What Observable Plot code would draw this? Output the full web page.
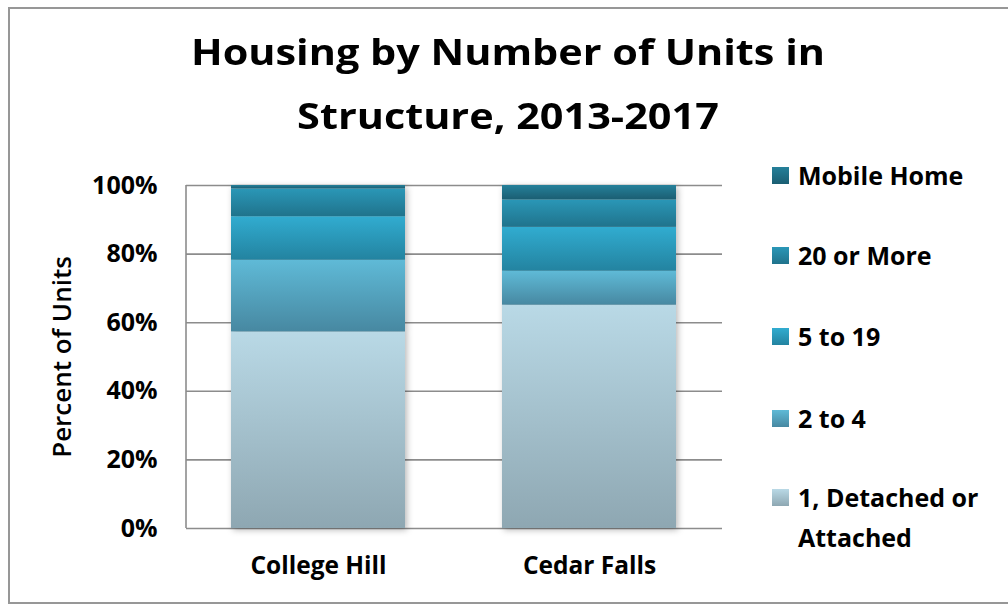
<!DOCTYPE html>
<html>
<head>
<meta charset="utf-8">
<script src="https://cdn.jsdelivr.net/npm/d3@7"></script>
<script src="https://cdn.jsdelivr.net/npm/@observablehq/plot@0.6"></script>
<style>
  html, body { margin: 0; padding: 0; background: #fff; }
  #wrap { position: relative; width: 1008px; height: 604px; overflow: hidden; font-family: "Open Sans", sans-serif; color: #000; }
  #border { position: absolute; left: 8px; top: 7px; width: 1010px; height: 597px; border: 2px solid #979797; box-sizing: border-box; }
  #title { position: absolute; left: 0; top: 20px; width: 1016px; text-align: center; font-size: 36px; font-weight: 700; line-height: 64px; transform: scaleX(1.15); transform-origin: 508px 0; }
  #chart { position: absolute; left: 0; top: 0; }
  .leg { position: absolute; left: 772px; width: 225px; font-size: 25px; font-weight: 700; line-height: 40px; }
  .leg .sw { position: absolute; left: 0; top: 12px; width: 17px; height: 17px; }
  .leg .tx { display: block; margin-left: 26px; }
</style>
</head>
<body>
<div id="wrap">
  <div id="border"></div>
  <div id="chart"></div>
  <div id="title">Housing by Number of Units in<br>Structure, 2013-2017</div>
  <div id="legend"></div>
</div>
<script>
// ---- data ----
const categories = ["College Hill", "Cedar Falls"];
const series = ["1, Detached or Attached", "2 to 4", "5 to 19", "20 or More", "Mobile Home"];
const collegeHill = [57.3, 20.9, 12.7, 8.1, 1.0];
const cedarFalls = [65.1, 9.9, 12.8, 8.0, 4.2];
const yTicks = [0, 20, 40, 60, 80, 100];

// gradient colours per series (top -> bottom)
const gradTop = ["#b9d9e6", "#5fbad7", "#31acd0", "#2a97b7", "#25809a"];
const gradBottom = ["#8ea7b2", "#4788a1", "#2383a0", "#20738c", "#1b5e72"];

const values = [collegeHill, cedarFalls];
const data = [];
series.forEach((s, i) => {
  categories.forEach((c, j) => data.push({place: c, series: s, value: values[j][i]}));
});

const chart = Plot.plot({
  width: 760,
  height: 604,
  marginTop: 185,
  marginBottom: 76,
  marginLeft: 186,
  marginRight: 38,
  style: {background: "transparent", overflow: "visible", fontFamily: "'Open Sans', sans-serif"},
  x: {domain: categories, paddingInner: 0.357, paddingOuter: 0.164},
  y: {domain: [0, 100]},
  color: {domain: series, range: series.map((s, i) => `url(#grad${i})`)},
  marks: [
    Plot.ruleY(yTicks, {stroke: "#8c8c8c", strokeWidth: 1.6}),
    Plot.barY(data, {x: "place", y: "value", fill: "series"}),
    Plot.axisY({ticks: yTicks, tickFormat: d => d + "%", tickSize: 0, tickPadding: 29, fontSize: 25, fontWeight: "bold", label: null}),
    Plot.axisX({tickSize: 0, tickPadding: 28, fontSize: 24.5, fontWeight: "bold", label: null}),
    Plot.text(["Percent of Units"], {frameAnchor: "left", textAnchor: "middle", dx: -124, rotate: -90, fontSize: 26, fontWeight: 600})
  ]
});

// gradients
const svg = d3.select(chart);
const defs = svg.insert("defs", ":first-child");
series.forEach((s, i) => {
  const g = defs.append("linearGradient").attr("id", `grad${i}`).attr("x1", 0).attr("y1", 0).attr("x2", 0).attr("y2", 1);
  g.append("stop").attr("offset", "0%").attr("stop-color", gradTop[i]);
  g.append("stop").attr("offset", "100%").attr("stop-color", gradBottom[i]);
});
svg.selectAll('g[aria-label="bar"]').style("filter", "drop-shadow(2px 2px 3px rgba(0,0,0,0.28))");
// left axis line
svg.append("line").attr("x1", 186).attr("x2", 186).attr("y1", 185).attr("y2", 528)
  .attr("stroke", "#8c8c8c").attr("stroke-width", 1.6);

document.getElementById("chart").appendChild(chart);

// legend (top entry first)
const legendTops = [155, 235, 316, 398, 477];
const legend = document.getElementById("legend");
series.slice().reverse().forEach((s, k) => {
  const i = series.length - 1 - k;
  const item = document.createElement("div");
  item.className = "leg";
  item.style.top = legendTops[k] + "px";
  item.innerHTML = `<span class="sw" style="background:linear-gradient(${gradTop[i]}, ${gradBottom[i]})"></span><span class="tx">${s}</span>`;
  legend.appendChild(item);
});
</script>
</body>
</html>
